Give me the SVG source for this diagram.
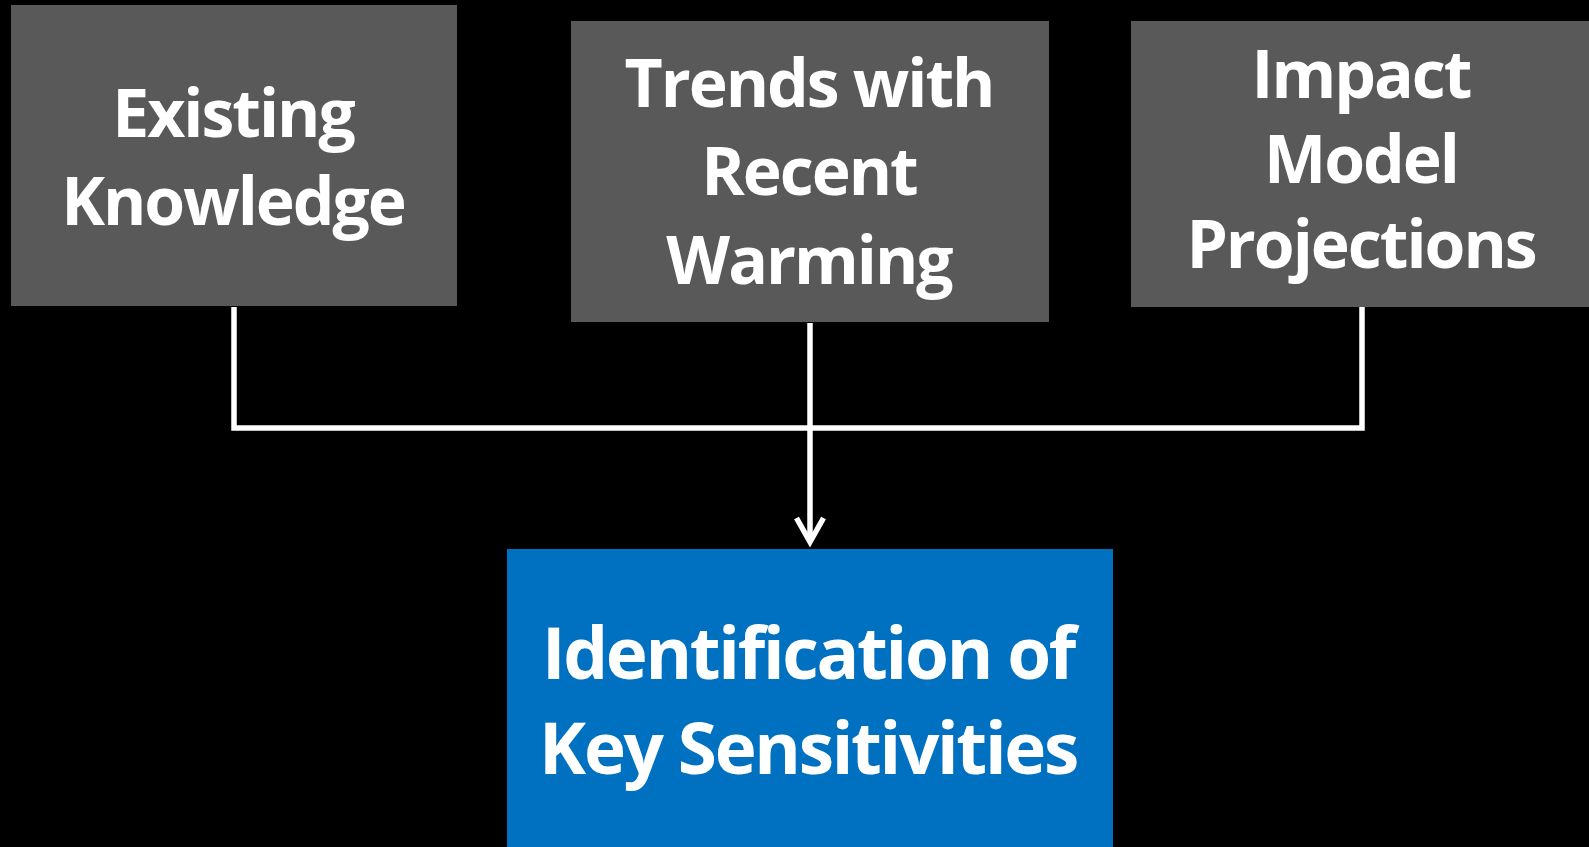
<svg xmlns="http://www.w3.org/2000/svg" width="1589" height="847" viewBox="0 0 1589 847">
  <defs>
    <style>
      .box-gray { fill: #595959; }
      .box-blue { fill: #0070C0; }
      .label { font-family: "Open Sans", "Liberation Sans", sans-serif; font-weight: 700; fill: #FFFFFF; text-anchor: middle; }
      .top { font-size: 66px; letter-spacing: -2px; }
      .bottom { font-size: 71px; letter-spacing: -2.3px; }
      .conn { fill: none; stroke: #FFFFFF; stroke-width: 5.5; }
    </style>
    <marker id="arrow" markerUnits="userSpaceOnUse" viewBox="-32 -18 36 36" markerWidth="36" markerHeight="36" refX="0" refY="0" orient="auto" overflow="visible">
      <path d="M-24,-13.5 L0,0 L-24,13.5" fill="none" stroke="#FFFFFF" stroke-width="5.5" stroke-linejoin="miter" stroke-miterlimit="10"/>
    </marker>
  </defs>
  <rect x="0" y="0" width="1589" height="847" fill="#000000"/>

  <g id="connectors">
    <path class="conn" d="M234,307 V428 H1362 V307" stroke-linejoin="miter"/>
    <path class="conn" d="M810,323 V542" marker-end="url(#arrow)"/>
  </g>

  <g id="node-existing-knowledge">
    <rect class="box-gray" x="11" y="5" width="446" height="301"/>
    <text class="label top" x="233" y="137">Existing</text>
    <text class="label top" x="233" y="225">Knowledge</text>
  </g>

  <g id="node-trends">
    <rect class="box-gray" x="571" y="21" width="478" height="301"/>
    <text class="label top" x="809" y="107">Trends with</text>
    <text class="label top" x="809" y="195">Recent</text>
    <text class="label top" x="809" y="284">Warming</text>
  </g>

  <g id="node-impact">
    <rect class="box-gray" x="1131" y="21" width="470" height="286"/>
    <text class="label top" x="1361" y="98">Impact</text>
    <text class="label top" x="1361" y="183">Model</text>
    <text class="label top" x="1361" y="268">Projections</text>
  </g>

  <g id="node-identification">
    <rect class="box-blue" x="507" y="549" width="606" height="310"/>
    <text class="label bottom" x="808" y="679">Identification of</text>
    <text class="label bottom" x="808" y="774">Key Sensitivities</text>
  </g>
</svg>
